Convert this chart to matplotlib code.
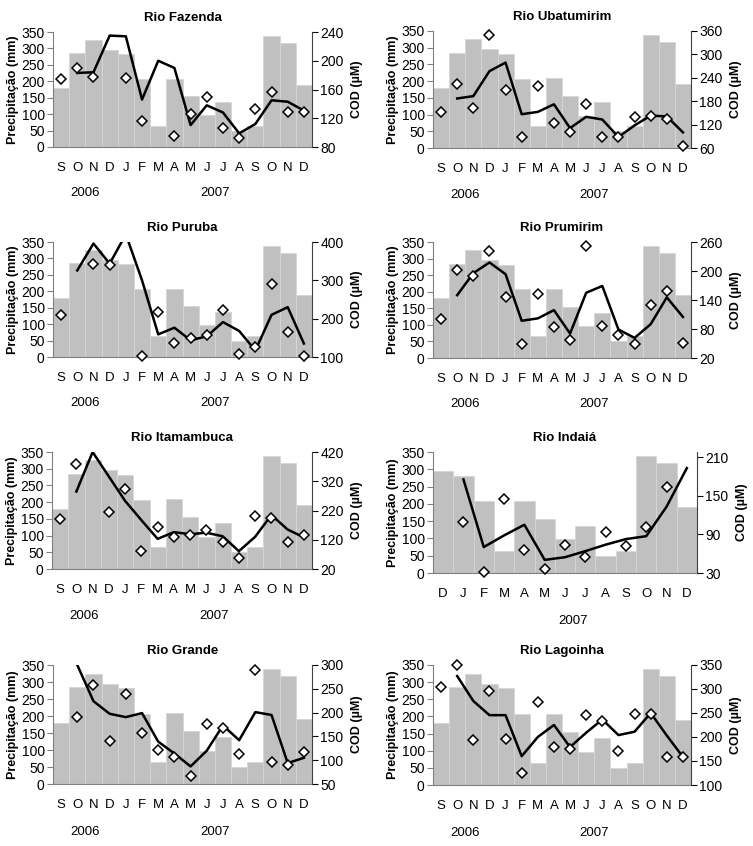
import numpy as np
import matplotlib
matplotlib.use("Agg")
import matplotlib.pyplot as plt

plt.rcParams['font.family'] = ['Liberation Sans', 'DejaVu Sans']

nan = np.nan

# monthly precipitation, Sep 2006 - Dec 2007
months = ['S', 'O', 'N', 'D', 'J', 'F', 'M', 'A', 'M', 'J', 'J', 'A', 'S', 'O', 'N', 'D']
precip = [180, 285, 325, 295, 282, 207, 65, 208, 155, 97, 137, 50, 65, 338, 318, 190]

# Rio Indaiá only covers Dec 2006 - Dec 2007
indaia_months = ['D', 'J', 'F', 'M', 'A', 'M', 'J', 'J', 'A', 'S', 'O', 'N', 'D']
indaia_precip = [295, 282, 207, 63, 208, 155, 97, 137, 50, 65, 338, 318, 190]

# COD (uM): diamonds = monthly values, line = moving average
fazenda_pts = [175, 190, 177.6, nan, 176, 116.6, nan, 95, 126, 149, 106.7, 92, 132.5, 156, 129, 129]
fazenda_line = [nan, 183, 184, 235, 234, 146, 200, 190, 110.5, 138, 128, 99, 112, 145, 143, 130.7]

ubatumirim_pts = [152.6, 223, 163, 350, 208, 88, 218.6, 123, 101, 174, 88, 88, 140, 141, 135, 66]
ubatumirim_line = [nan, 187, 193, 257, 279, 146.6, 152.6, 172, 111, 140, 133, 88, 118, 143, 141, 100]

puruba_pts = [209, nan, 342, 341, nan, 102, 218, 136, 149, 158, 222, 108, 126, 291, 164, 103.5]
puruba_line = [nan, 326, 396, 343.5, 420, 300, 159, 176.5, 143.5, 154, 191, 168, 117, 210, 230, 135]

prumirim_pts = [100.5, 202, 190.6, 240.6, 145.5, 50, 152.5, 84.5, 58, 251.7, 87, 68, 50, 129.6, 158.7, 52]
prumirim_line = [nan, 150, 195.5, 217.7, 193.4, 97, 102, 119, 70.6, 155, 169, 79, 61.6, 90, 145.5, 105]

itamambuca_pts = [189.6, 378.7, nan, 215, 293, 80.7, 162, 130, 136, 153, 111.7, 56.7, 201, 195, 113, 136]
itamambuca_line = [nan, 284.8, 420, 336, 252.7, 187, 123, 146, 139, 144, 132, 81, 130, 204.5, 155, 128]

indaia_pts = [nan, 109.7, 31, 145, 65, 35.7, 73.4, 54.8, 93, 72.4, 102, 164, nan]
indaia_line = [nan, 175.3, 70.3, 88.4, 105, 50.4, 54.5, 64, 74, 82.7, 87.2, 133, 193]

grande_pts = [nan, 191, 257, 140, 240, 156.7, 121.6, 107.6, 67, 175, 168, 112.5, 289.5, 96, 90, 118]
grande_line = [nan, 300, 224, 197.5, 190.5, 199, 139, 114, 87, 120, 173, 142, 201, 195, 94, 105]

lagoinha_pts = [304.7, 350, 194.7, 295.7, 196.8, 125, 272, 178.7, 176, 246, 234, 171, 248, 247.6, 158.5, 159]
lagoinha_line = [nan, 327, 275, 245.5, 245.5, 160, 200, 225, 179, 209, 236.5, 204, 211, 250, 203, 158.5]

W, H = 753, 846
fig = plt.figure(figsize=(W / 100, H / 100), dpi=100)

TICK_FS = 10
LAB_FS = 9.5


def panel(box, title, mon, prec, pts, line, cod_lim, cod_ticks, years):
    left, top, right, bottom = box
    ax = fig.add_axes([left / W, 1 - bottom / H, (right - left) / W, (bottom - top) / H])
    x = np.arange(len(mon))
    ax.bar(x, prec, width=1.0, color='#c0c0c0', edgecolor='#d6d6d6', linewidth=0.6, zorder=1)
    ax.set_xlim(-0.5, len(mon) - 0.5)
    ax.set_ylim(0, 350)
    ax.set_yticks(range(0, 351, 50))
    ax.set_xticks(x)
    ax.set_xticklabels(mon, fontsize=LAB_FS)
    ax.tick_params(axis='x', length=0, pad=11)
    ax.tick_params(axis='y', labelsize=TICK_FS, length=4, color='#808080', pad=2)
    for s in ['top', 'right']:
        ax.spines[s].set_visible(False)
    ax.spines['left'].set_color('#808080')
    ax.spines['bottom'].set_color('#808080')
    ax.set_ylabel('Precipitação (mm)', fontsize=9, fontweight='bold', labelpad=2)
    ax.set_title(title, fontsize=LAB_FS, fontweight='bold', pad=8)

    ax2 = ax.twinx()
    ax2.plot(x, line, color='black', linewidth=1.8, zorder=3)
    ax2.plot(x, pts, linestyle='none', marker='D', markersize=5, markerfacecolor='white',
             markeredgecolor='black', markeredgewidth=1.1, zorder=4, clip_on=False)
    ax2.set_ylim(*cod_lim)
    ax2.set_yticks(cod_ticks)
    ax2.tick_params(axis='y', labelsize=TICK_FS, length=4, pad=2)
    for s in ['top', 'left', 'bottom']:
        ax2.spines[s].set_visible(False)
    ax2.spines['right'].set_color('#404040')
    ax2.set_ylabel('COD (µM)', fontsize=9, fontweight='bold', labelpad=5)

    for yx, ytxt in years:
        ax.text(yx, -0.40, ytxt, transform=ax.get_xaxis_transform(), ha='center', va='center',
                fontsize=LAB_FS)


yrs = [(1.5, '2006'), (9.5, '2007')]
panel((53, 32, 312, 147), 'Rio Fazenda', months, precip, fazenda_pts, fazenda_line,
      (80, 240), range(80, 241, 40), yrs)
panel((433, 31, 691, 148), 'Rio Ubatumirim', months, precip, ubatumirim_pts, ubatumirim_line,
      (60, 360), range(60, 361, 60), yrs)
panel((53, 242, 312, 357), 'Rio Puruba', months, precip, puruba_pts, puruba_line,
      (100, 400), range(100, 401, 100), yrs)
panel((433, 242, 691, 358), 'Rio Prumirim', months, precip, prumirim_pts, prumirim_line,
      (20, 260), range(20, 261, 60), yrs)
panel((52, 452, 312, 569), 'Rio Itamambuca', months, precip, itamambuca_pts, itamambuca_line,
      (20, 420), range(20, 421, 100), yrs)
panel((433, 452, 697, 573), 'Rio Indaiá', indaia_months, indaia_precip, indaia_pts, indaia_line,
      (30, 218), range(30, 211, 60), [(6.4, '2007')])
panel((53, 665, 312, 784), 'Rio Grande', months, precip, grande_pts, grande_line,
      (50, 300), range(50, 301, 50), yrs)
panel((433, 665, 691, 785), 'Rio Lagoinha', months, precip, lagoinha_pts, lagoinha_line,
      (100, 350), range(100, 351, 50), yrs)

fig.savefig('out.png', dpi=100)
